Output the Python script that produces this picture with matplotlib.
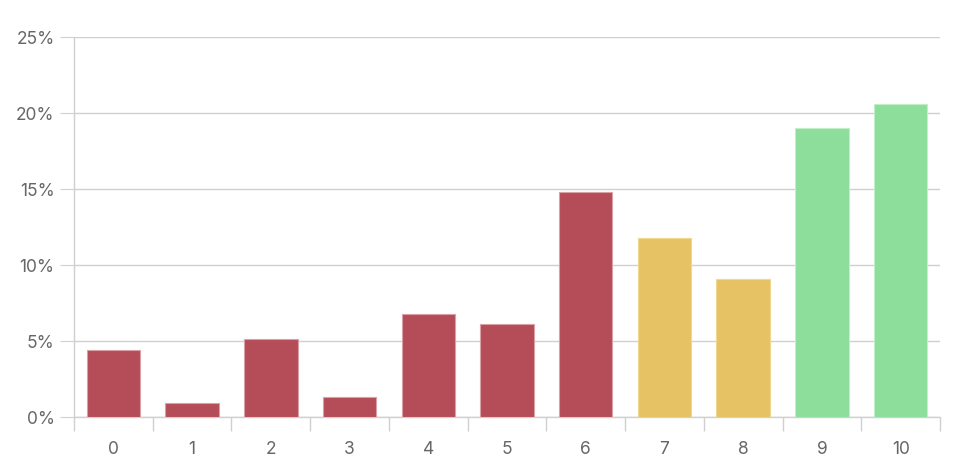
import matplotlib
matplotlib.use("Agg")
import matplotlib.pyplot as plt
from matplotlib.ticker import FuncFormatter

categories = ["0", "1", "2", "3", "4", "5", "6", "7", "8", "9", "10"]
values = [4.4, 0.95, 5.1, 1.3, 6.8, 6.1, 14.8, 11.8, 9.1, 19.0, 20.6]
colors = ["#b44d57"] * 7 + ["#e6c264"] * 2 + ["#8dde9b"] * 2
edges = ["#d9a0a6"] * 7 + ["#f0d890"] * 2 + ["#c2eec9"] * 2
yticks = [0, 5, 10, 15, 20, 25]

plt.rcParams['font.family'] = ['Inter', 'DejaVu Sans']

fig = plt.figure(figsize=(9.66, 4.74), dpi=100)
ax = fig.add_axes([74/966, 57/474, 866/966, 380/474])

x = list(range(len(categories)))
ax.bar(x, values, width=0.68, color=colors, edgecolor=edges, linewidth=0.8, zorder=3)

ax.set_xlim(-0.5, len(categories) - 0.5)
ax.set_ylim(0, 25)
ax.set_yticks(yticks)
ax.yaxis.set_major_formatter(FuncFormatter(lambda v, p: f"{int(v)}%"))
ax.set_xticks(x)
ax.set_xticklabels(categories)
ax.set_xticks([i - 0.5 for i in range(len(categories) + 1)], minor=True)

ax.grid(axis='y', color='#d0d0d0', linewidth=1, zorder=0)
for s in ['top', 'right']:
    ax.spines[s].set_visible(False)
for s in ['left', 'bottom']:
    ax.spines[s].set_color('#d0d0d0')
    ax.spines[s].set_linewidth(1)

ax.tick_params(axis='y', length=10, color='#d0d0d0', labelcolor='#666666', labelsize=12.5, pad=4)
ax.tick_params(axis='x', which='major', length=0, labelcolor='#666666', labelsize=12.5, pad=17)
ax.tick_params(axis='x', which='minor', length=10, color='#d0d0d0', width=1)

fig.savefig("out.png", dpi=100)
